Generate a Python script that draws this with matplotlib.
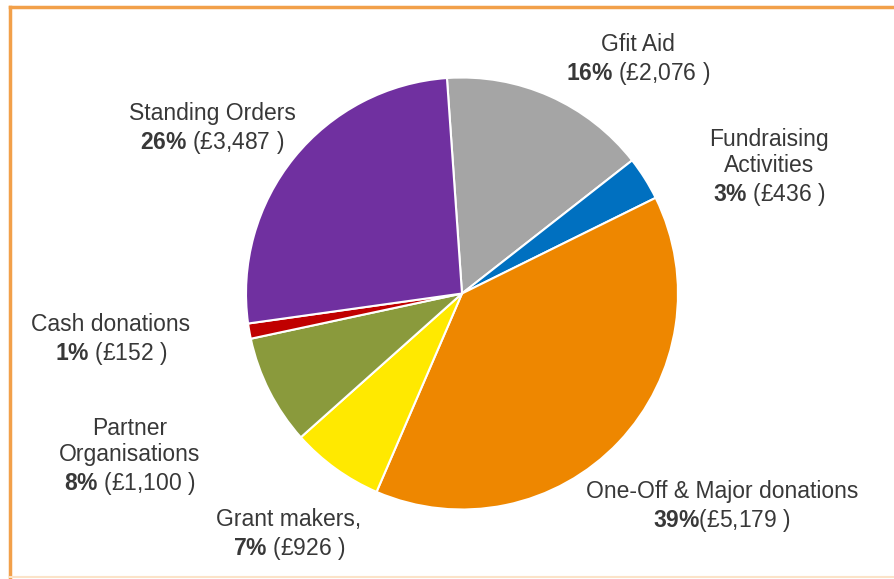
import matplotlib.pyplot as plt
from matplotlib.lines import Line2D

# Font setup: Arial-like text, bold percentages through mathtext
plt.rcParams['font.family'] = ['Liberation Sans', 'DejaVu Sans']
plt.rcParams['mathtext.fontset'] = 'custom'
plt.rcParams['mathtext.rm'] = 'Liberation Sans'
plt.rcParams['mathtext.bf'] = 'Liberation Sans:bold'

# Data (clockwise from the top)
categories = ["Gfit Aid", "Fundraising\nActivities", "One-Off & Major donations",
              "Grant makers,", "Partner\nOrganisations", "Cash donations", "Standing Orders"]
amounts = [2076, 436, 5179, 926, 1100, 152, 3487]
percents = [16, 3, 39, 7, 8, 1, 26]
colors = ["#a5a5a5", "#0070c0", "#ee8700", "#ffe900", "#8a9a3c", "#c00000", "#7030a0"]

# Label centres in pixels (layout only)
label_px = [(638, 60), (769, 168), (722, 507), (289, 535), (130, 457), (111, 340), (212, 129)]

W, H = 895, 579
fig = plt.figure(figsize=(W / 100, H / 100), dpi=100)

# Pie axes: centre (462, 293.5) px, radius 216 px
cx, cy, r = 462, 293.5, 216
ax = fig.add_axes([(cx - r) / W, (H - cy - r) / H, 2 * r / W, 2 * r / H])
ax.pie(amounts, colors=colors, startangle=94, counterclock=False, radius=1,
       wedgeprops=dict(edgecolor="white", linewidth=1.5))
ax.set_xlim(-1, 1)
ax.set_ylim(-1, 1)
ax.set_aspect("equal")
ax.axis("off")

# Labels
for cat, amt, pct, (px, py) in zip(categories, amounts, percents, label_px):
    gap = "" if pct == 39 else " "
    txt = cat + "\n" + r"$\mathbf{" + str(pct) + r"\%}$" + gap + "(£{:,} )".format(amt)
    fig.text(px / W, 1 - py / H, txt, ha="center", va="center", ma="center",
             fontsize=16.5, color="#383838", linespacing=1.2)

# Orange frame (top and left visible, bottom faint)
border = "#f2a04a"
fig.add_artist(Line2D([10 / W, 1.0], [1 - 7 / H, 1 - 7 / H], color=border, lw=2.5))
fig.add_artist(Line2D([10 / W, 10 / W], [1 - 7 / H, 1 - 578 / H], color=border, lw=2.5))
fig.add_artist(Line2D([10 / W, 1.0], [1 - 577 / H, 1 - 577 / H], color="#fbe3c8", lw=1.5))

fig.savefig("out.png", dpi=100)
